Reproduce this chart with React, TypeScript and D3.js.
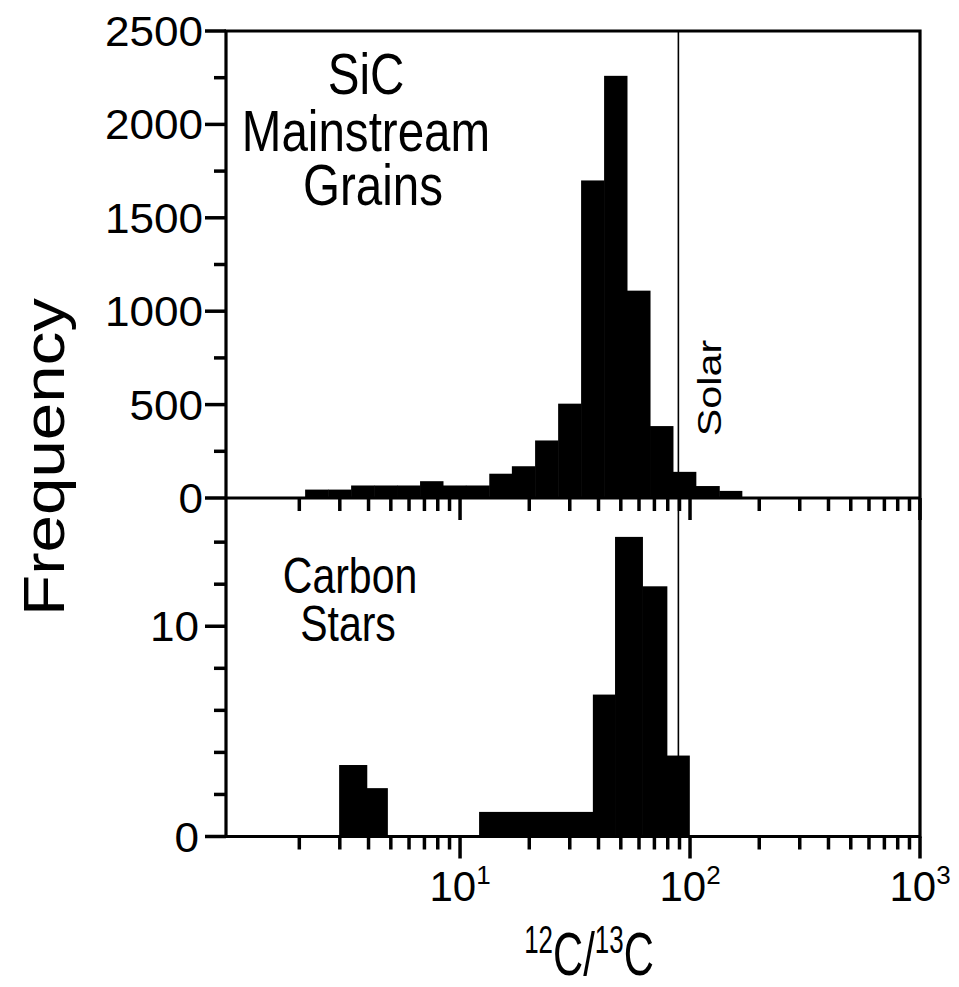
import React from "react";
import * as d3 from "d3";

// ---- data ----
const sicBinEdges = [2.12, 2.67, 3.36, 4.23, 5.32, 6.70, 8.43, 10.6, 13.4, 16.8, 21.2, 26.7, 33.6, 42.3, 53.2, 67.0, 84.3, 106, 134, 168];
const sicCounts = [45, 45, 67, 67, 67, 90, 67, 67, 130, 170, 308, 505, 1700, 2260, 1110, 385, 140, 64, 38];

const starLo = [2.98, 3.93, 12.1, 37.8, 47.2, 62.1, 79.3];
const starHi = [3.93, 4.83, 37.8, 47.2, 62.1, 79.3, 99.3];
const starCounts = [3.4, 2.3, 1.17, 6.75, 14.25, 11.9, 3.85];

const solarRatio = 89;
const sicYTicks = [0, 500, 1000, 1500, 2000, 2500];
const sicYMinor = [250, 750, 1250, 1750, 2250];
const starYTicks = [0, 10];
const starYMinor = [2, 4, 6, 8, 12, 14];
const xMajorExp = [1, 2, 3];

const FONT = "'Liberation Sans', Arial, Helvetica, sans-serif";

export default function App() {
  const W = 959, H = 987;
  const left = 226, right = 920;
  const topY = 31, midY = 498, botY = 836.5;

  const x = d3.scaleLog().domain([0.96, 1000]).range([left, right]);
  const yTop = d3.scaleLinear().domain([0, 2500]).range([midY, topY]);
  const yBot = d3.scaleLinear().domain([0, 16.1]).range([botY, midY]);

  const xTicks = x.ticks().filter((t) => t > 1.5);
  const isMajor = (t: number) => Math.abs(Math.log10(t) - Math.round(Math.log10(t))) < 1e-6;

  const axisW = 3.2;
  const tickW = 3.5;

  const xTickMarks = (y0: number) =>
    xTicks.map((t, i) => (
      <line key={i} x1={x(t)} x2={x(t)} y1={y0} y2={y0 + (isMajor(t) ? 22 : 13)} stroke="#000" strokeWidth={tickW} />
    ));

  const TF = 42; // tick font

  return (
    <svg width={W} height={H} style={{ position: "absolute", left: 0, top: 0, background: "#fff" }} fontFamily={FONT}>
      <rect x={0} y={0} width={W} height={H} fill="#fff" />
      {/* top histogram */}
      {sicCounts.map((c, i) => (
        <rect key={"s" + i} x={x(sicBinEdges[i])} width={x(sicBinEdges[i + 1] ?? sicBinEdges[i] * 1.259) - x(sicBinEdges[i]) + 0.5}
          y={yTop(c)} height={midY - yTop(c)} fill="#000" />
      ))}
      {/* bottom histogram */}
      {starCounts.map((c, i) => (
        <rect key={"c" + i} x={x(starLo[i])} width={x(starHi[i]) - x(starLo[i]) + 0.5}
          y={yBot(c)} height={botY - yBot(c)} fill="#000" />
      ))}
      {/* solar line */}
      <line x1={x(solarRatio)} x2={x(solarRatio)} y1={topY} y2={botY} stroke="#000" strokeWidth={1.6} />

      {/* frames */}
      <path d={`M${left},${botY} L${left},${topY} L${right},${topY} L${right},${botY} L${left},${botY}`} fill="none" stroke="#000" strokeWidth={axisW} />
      <line x1={left} x2={right} y1={midY} y2={midY} stroke="#000" strokeWidth={axisW} />

      {/* x ticks */}
      {xTickMarks(midY)}
      {xTickMarks(botY)}

      {/* y ticks */}
      {sicYTicks.map((t) => (
        <line key={"yt" + t} x1={left - 21} x2={left} y1={yTop(t)} y2={yTop(t)} stroke="#000" strokeWidth={tickW} />
      ))}
      {sicYMinor.map((t) => (
        <line key={"ym" + t} x1={left - 12} x2={left} y1={yTop(t)} y2={yTop(t)} stroke="#000" strokeWidth={tickW} />
      ))}
      {starYTicks.map((t) => (
        <line key={"bt" + t} x1={left - 21} x2={left} y1={yBot(t)} y2={yBot(t)} stroke="#000" strokeWidth={tickW} />
      ))}
      {starYMinor.map((t) => (
        <line key={"bm" + t} x1={left - 12} x2={left} y1={yBot(t)} y2={yBot(t)} stroke="#000" strokeWidth={tickW} />
      ))}

      {/* y tick labels */}
      {sicYTicks.map((t) => (
        <text key={"yl" + t} transform={`translate(${203},${yTop(t) + 15}) scale(1.05,1)`} textAnchor="end" fontSize={TF}>{t}</text>
      ))}
      {starYTicks.map((t) => (
        <text key={"bl" + t} transform={`translate(${199},${yBot(t) + 15}) scale(1.05,1)`} textAnchor="end" fontSize={TF}>{t}</text>
      ))}

      {/* x tick labels */}
      {xMajorExp.map((e) => (
        <text key={"xl" + e} transform={`translate(${x(Math.pow(10, e))},${901})`} textAnchor="middle" fontSize={TF}>
          10<tspan fontSize={26} dy={-17}>{e}</tspan>
        </text>
      ))}

      {/* axis titles */}
      <text transform={`translate(64,457) rotate(-90) scale(1.16,1)`} textAnchor="middle" fontSize={58}>Frequency</text>
      <text transform={`translate(589,975) scale(0.72,1.06)`} textAnchor="middle" fontSize={58}>
        <tspan fontSize={36} dy={-21}>12</tspan><tspan dy={21}>C/</tspan><tspan fontSize={36} dy={-21}>13</tspan><tspan dy={21}>C</tspan>
      </text>

      {/* panel labels */}
      <text transform={`translate(366,94) scale(0.82,1)`} textAnchor="middle" fontSize={58}>SiC</text>
      <text transform={`translate(366,151) scale(0.82,1)`} textAnchor="middle" fontSize={58}>Mainstream</text>
      <text transform={`translate(373,205) scale(0.82,1)`} textAnchor="middle" fontSize={58}>Grains</text>
      <text transform={`translate(350,593) scale(0.82,1)`} textAnchor="middle" fontSize={50}>Carbon</text>
      <text transform={`translate(348,641) scale(0.82,1)`} textAnchor="middle" fontSize={50}>Stars</text>
      <text transform={`translate(721,388) rotate(-90) scale(1.25,1)`} textAnchor="middle" fontSize={33}>Solar</text>
    </svg>
  );
}
